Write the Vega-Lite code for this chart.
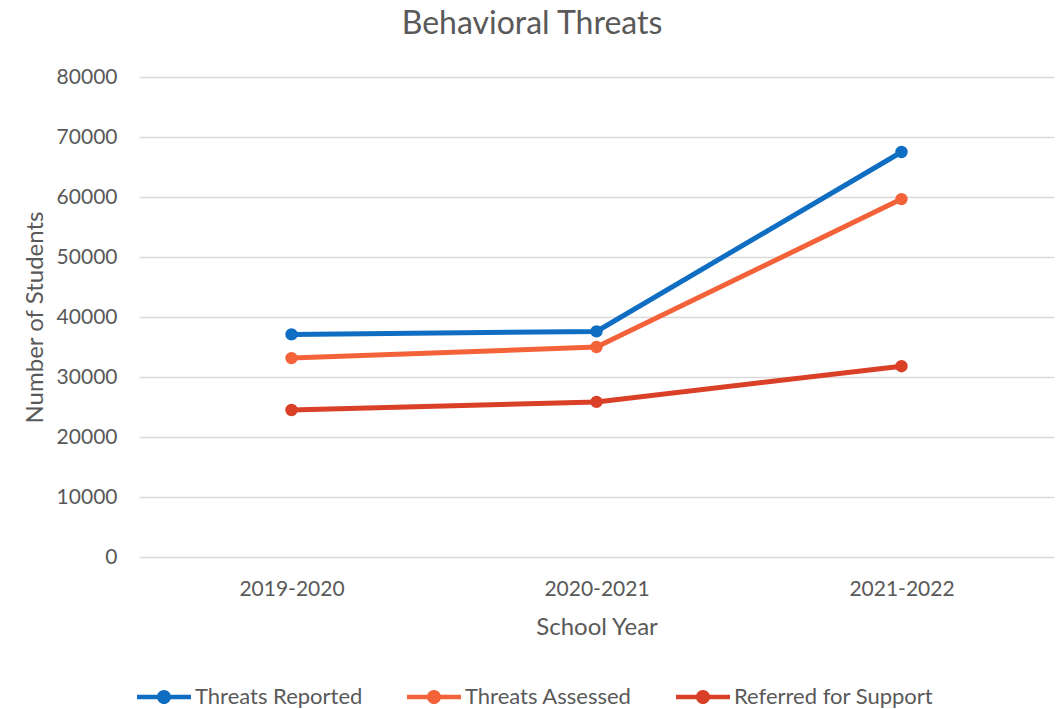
{
  "$schema": "https://vega.github.io/schema/vega-lite/v6.json",
  "width": 915,
  "height": 480,
  "autosize": {"type": "none"},
  "padding": {"left": 139, "top": 77, "right": 9, "bottom": 152},
  "background": "white",
  "config": {
    "font": "Lato",
    "view": {"stroke": null}
  },
  "title": {
    "text": "Behavioral Threats",
    "font": "Lato",
    "fontSize": 32,
    "fontWeight": "normal",
    "color": "#595959",
    "anchor": "middle",
    "frame": "group",
    "dx": -64.5,
    "baseline": "alphabetic",
    "offset": 0
  },
  "data": {
    "values": [
      {"year": "2019-2020", "series": "Threats Reported", "value": 37100},
      {"year": "2020-2021", "series": "Threats Reported", "value": 37600},
      {"year": "2021-2022", "series": "Threats Reported", "value": 67500},
      {"year": "2019-2020", "series": "Threats Assessed", "value": 33150},
      {"year": "2020-2021", "series": "Threats Assessed", "value": 35000},
      {"year": "2021-2022", "series": "Threats Assessed", "value": 59650},
      {"year": "2019-2020", "series": "Referred for Support", "value": 24500},
      {"year": "2020-2021", "series": "Referred for Support", "value": 25850},
      {"year": "2021-2022", "series": "Referred for Support", "value": 31800}
    ]
  },
  "encoding": {
    "x": {
      "field": "year",
      "type": "ordinal",
      "scale": {"type": "point", "padding": 0.5},
      "axis": {
        "title": "School Year",
        "labelAngle": 0,
        "labelFontSize": 21,
        "labelColor": "#595959",
        "labelPadding": 21,
        "ticks": false,
        "tickSize": 0,
        "domain": false,
        "grid": false,
        "titleFontSize": 24,
        "titleFontWeight": "normal",
        "titleColor": "#595959",
        "titleBaseline": "alphabetic",
        "titleY": 77
      }
    },
    "y": {
      "field": "value",
      "type": "quantitative",
      "scale": {"domain": [0, 80000], "nice": false},
      "axis": {
        "title": "Number of Students",
        "values": [0, 10000, 20000, 30000, 40000, 50000, 60000, 70000, 80000],
        "format": "d",
        "labelFontSize": 21,
        "labelColor": "#595959",
        "labelPadding": 22,
        "ticks": false,
        "tickSize": 0,
        "domain": false,
        "grid": true,
        "gridColor": "#D9D9D9",
        "gridWidth": 1.3,
        "titleFontSize": 24,
        "titleFontWeight": "normal",
        "titleColor": "#595959",
        "titleAngle": -90,
        "titleBaseline": "alphabetic",
        "titleAlign": "center",
        "titleX": -97,
        "titleY": 240
      }
    },
    "color": {
      "field": "series",
      "type": "nominal",
      "scale": {
        "domain": ["Threats Reported", "Threats Assessed", "Referred for Support"],
        "range": ["#0F6EC2", "#F4623A", "#DA3F27"]
      },
      "legend": {
        "orient": "none",
        "legendX": -2,
        "legendY": 593,
        "direction": "horizontal",
        "title": null,
        "symbolType": "M-1,-0.085H1V0.085H-1Z M-0.26,0A0.26,0.26 0 1,1 0.26,0A0.26,0.26 0 1,1 -0.26,0Z",
        "symbolSize": 2916,
        "symbolStrokeWidth": 0,
        "labelFontSize": 22,
        "labelColor": "#595959",
        "labelOffset": 4,
        "columnPadding": 44,
        "labelLimit": 400,
        "encode": {
          "symbols": {
            "update": {
              "fill": {"scale": "color", "field": "value"},
              "opacity": {"value": 1},
              "strokeWidth": {"value": 0}
            }
          }
        }
      }
    }
  },
  "layer": [
    {
      "mark": {"type": "line", "strokeWidth": 5}
    },
    {
      "mark": {"type": "point", "filled": true, "size": 154, "opacity": 1}
    }
  ]
}
